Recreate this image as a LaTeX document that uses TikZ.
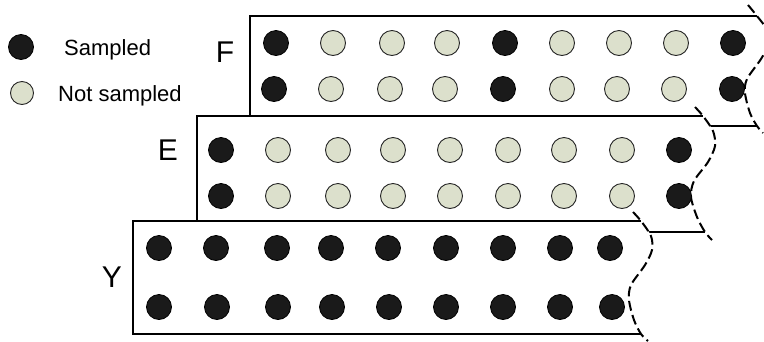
\documentclass[tikz,border=0pt]{standalone}
\usepackage{fontspec}
\setmainfont{Liberation Sans}
\definecolor{dotgrey}{RGB}{220,224,204}
\definecolor{dotblack}{RGB}{26,26,26}
\begin{document}
\begin{tikzpicture}[x=1pt,y=-1pt,
  samp/.style={circle, draw=black, line width=0.8pt, fill=dotblack, minimum size=25pt, inner sep=0pt},
  nsamp/.style={circle, draw=black!85, line width=0.9pt, fill=dotgrey, minimum size=25pt, inner sep=0pt},
  boxline/.style={line width=2pt},
  torn/.style={line width=2pt, dash pattern=on 10pt off 4.5pt},
  lbl/.style={font=\fontsize{30}{30}\selectfont, inner sep=0pt, anchor=base},
  legend/.style={font=\fontsize{22}{22}\selectfont, inner sep=0pt, anchor=base west}]
\useasboundingbox (0,0) rectangle (764,341);

% ---- F box
\fill[white] (250,16) -- (757,16) -- plot[smooth] coordinates {(757,16) (767,30) (768,45) (761,59) (747,79) (745,93) (750,113) (757,126)} -- (250,126) -- cycle;
\draw[boxline] (757,16) -- (250,16) -- (250,126) -- (757,126);
\draw[torn] plot[smooth] coordinates {(748,5) (757,16) (767,30) (768,45) (761,59) (747,79) (745,93) (750,113) (757,126) (763,133)};
\foreach \x/\t [count=\i] in {276/samp,333/nsamp,392/nsamp,447/nsamp,505/samp,562/nsamp,619/nsamp,676/nsamp,733/samp}
  \node[\t] (fa\i) at (\x,43) {};
\foreach \x/\t [count=\i] in {274/samp,331/nsamp,390/nsamp,445/nsamp,503/samp,562/nsamp,617/nsamp,674/nsamp,732/samp}
  \node[\t] (fb\i) at (\x,89) {};

% ---- E box
\fill[white] (197,116) -- (703,116) -- plot[smooth] coordinates {(703,116) (713,131) (715,146) (708,162) (694,181) (691,197) (697,217) (705,232)} -- (197,232) -- cycle;
\draw[boxline] (703,116) -- (197,116) -- (197,232) -- (705,232);
\draw[torn] plot[smooth] coordinates {(695,107) (703,116) (713,131) (715,146) (708,162) (694,181) (691,197) (697,217) (705,232) (712,240)};
\foreach \x/\t [count=\i] in {221/samp,278/nsamp,338/nsamp,393/nsamp,450/nsamp,508/nsamp,564/nsamp,622/nsamp,679/samp}
  \node[\t] (ea\i) at (\x,150) {};
\foreach \x/\t [count=\i] in {221/samp,278/nsamp,338/nsamp,393/nsamp,450/nsamp,508/nsamp,564/nsamp,622/nsamp,679/samp}
  \node[\t] (eb\i) at (\x,196) {};

% ---- Y box
\fill[white] (133,221) -- (641,221) -- plot[smooth] coordinates {(641,221) (651,236) (652,250) (645,265) (631,285) (629,300) (634,320) (641,334)} -- (133,334) -- cycle;
\draw[boxline] (641,221) -- (133,221) -- (133,334) -- (641,334);
\draw[torn] plot[smooth] coordinates {(633,212) (641,221) (651,236) (652,250) (645,265) (631,285) (629,300) (634,320) (641,334) (648,341)};
\foreach \x [count=\i] in {159,216,277,331,388,446,503,560,610}
  \node[samp] (ya\i) at (\x,248) {};
\foreach \x [count=\i] in {159,217,278,332,389,446,503,560,612}
  \node[samp] (yb\i) at (\x,307) {};

% ---- labels
\node[lbl] (labF) at (225,62) {F};
\node[lbl] (labE) at (168,160) {E};
\node[lbl] (labY) at (112,287) {Y};

% ---- legend
\node[samp, minimum size=25pt] (legS) at (21,47) {};
\node[nsamp, minimum size=23pt] (legN) at (22,93) {};
\node[legend] (legSt) at (64,55) {Sampled};
\node[legend] (legNt) at (58,101) {Not sampled};
\end{tikzpicture}
\end{document}
